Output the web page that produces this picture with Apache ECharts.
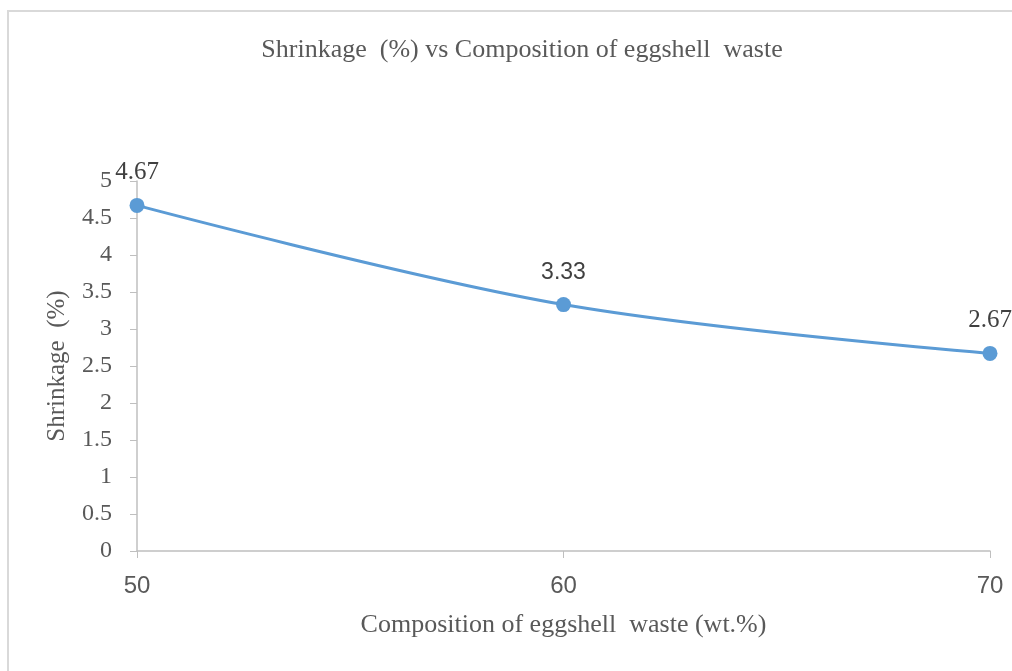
<!DOCTYPE html>
<html>
<head>
<meta charset="utf-8">
<script src="https://cdn.jsdelivr.net/npm/echarts@6/dist/echarts.min.js"></script>
<style>
html,body{margin:0;padding:0;background:#fff;}
#main{width:1012px;height:671px;}
</style>
</head>
<body>
<div id="main"></div>
<script>
// composition of eggshell waste (wt.%) and measured shrinkage (%)
var composition = [50, 60, 70];
var shrinkage = [4.67, 3.33, 2.67];
var xTicks = [50, 60, 70];
var yTicks = [0, 0.5, 1, 1.5, 2, 2.5, 3, 3.5, 4, 4.5, 5];

var serif = '"Liberation Serif", "Times New Roman", serif';
var sans = '"Liberation Sans", Arial, sans-serif';

var chart = echarts.init(document.getElementById('main'));

var points = composition.map(function (x, i) {
	var item = { value: [x, shrinkage[i]] };
	if (i === 1) {
		item.label = { fontFamily: sans, fontSize: 23 };
	}
	return item;
});

var option = {
	animation: false,
	graphic: [{
		type: 'rect',
		shape: { x: 8, y: 11, width: 1100, height: 700 },
		style: { fill: 'none', stroke: '#d9d9d9', lineWidth: 2 },
		silent: true
	}],
	title: {
		text: 'Shrinkage  (%) vs Composition of eggshell  waste',
		left: 517,
		textAlign: 'center',
		top: 32,
		textStyle: {
			fontFamily: serif,
			fontWeight: 'normal',
			fontSize: 26,
			color: '#595959'
		}
	},
	grid: {
		left: 137,
		right: 22,
		top: 181,
		bottom: 120
	},
	xAxis: {
		type: 'value',
		min: xTicks[0],
		max: xTicks[xTicks.length - 1],
		interval: 10,
		name: 'Composition of eggshell  waste (wt.%)',
		nameLocation: 'middle',
		nameGap: 61,
		nameTextStyle: {
			fontFamily: serif,
			fontSize: 26,
			color: '#595959'
		},
		axisLine: { lineStyle: { color: '#bfbfbf', width: 1.5 } },
		axisTick: { show: true, length: 7, lineStyle: { color: '#bfbfbf' } },
		axisLabel: {
			margin: 23,
			fontFamily: sans,
			fontSize: 24,
			color: '#595959'
		},
		splitLine: { show: false }
	},
	yAxis: {
		type: 'value',
		min: yTicks[0],
		max: yTicks[yTicks.length - 1],
		interval: 0.5,
		name: 'Shrinkage  (%)',
		nameLocation: 'middle',
		nameGap: 67,
		nameTextStyle: {
			fontFamily: serif,
			fontSize: 25,
			color: '#595959'
		},
		axisLine: { show: true, lineStyle: { color: '#bfbfbf', width: 1.5 } },
		axisTick: { show: true, length: 7, lineStyle: { color: '#bfbfbf' } },
		axisLabel: {
			margin: 25,
			fontFamily: serif,
			fontSize: 24,
			color: '#595959'
		},
		splitLine: { show: false }
	},
	series: [{
		type: 'line',
		data: points,
		smooth: 0.35,
		symbol: 'circle',
		symbolSize: 15,
		itemStyle: { color: '#5b9bd5' },
		lineStyle: { color: '#5b9bd5', width: 3 },
		label: {
			show: true,
			position: 'top',
			distance: 13,
			fontFamily: serif,
			fontSize: 25,
			color: '#404040'
		}
	}]
};

chart.setOption(option);
window.onresize = chart.resize;
</script>
</body>
</html>
